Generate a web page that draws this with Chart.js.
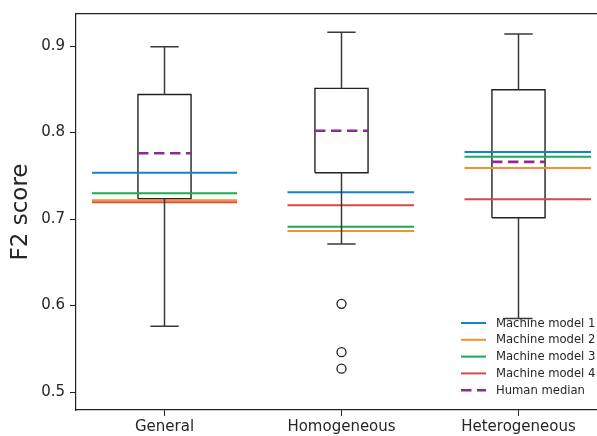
<!DOCTYPE html>
<html>
<head>
<meta charset="utf-8">
<script src="https://cdn.jsdelivr.net/npm/chart.js@4.4.0/dist/chart.umd.min.js"></script>
<style>
  html, body { margin: 0; padding: 0; background: #fff; overflow: hidden; }
  canvas { display: block; }
</style>
</head>
<body>
<canvas id="chart" width="620" height="436"></canvas>
<script>
// values
const categories = ['General', 'Homogeneous', 'Heterogeneous'];
const whiskerLow = [0.576, 0.671, 0.585];
const q1 = [0.7235, 0.7535, 0.7015];
const humanMedian = [0.776, 0.802, 0.766];
const q3 = [0.844, 0.851, 0.8495];
const whiskerHigh = [0.899, 0.916, 0.914];
const outliers = [[], [0.602, 0.546, 0.527], []];
const machineModel1 = [0.7535, 0.731, 0.7775];
const machineModel2 = [0.7216, 0.686, 0.759];
const machineModel3 = [0.7297, 0.691, 0.772];
const machineModel4 = [0.7193, 0.716, 0.7228];
const yTicks = [0.5, 0.6, 0.7, 0.8, 0.9];

// layout constants (data units on the x scale)
const boxHalf = 0.15;
const capHalf = 0.08;
const lineLeft = [0.41, 0.305, 0.305];
const lineRight = 0.41;

const font = "'DejaVu Sans', sans-serif";
const ink = '#222';

// join several point groups into one line, broken by null points
function segments(groups) {
  const pts = [];
  groups.forEach((g, i) => {
    if (i) pts.push({ x: g[0][0], y: null });
    g.forEach(p => pts.push({ x: p[0], y: p[1] }));
  });
  return pts;
}

const pos = categories.map((c, i) => i + 1);

const boxPts = segments(pos.map((p, i) => [
  [p - boxHalf, q1[i]], [p + boxHalf, q1[i]], [p + boxHalf, q3[i]],
  [p - boxHalf, q3[i]], [p - boxHalf, q1[i]]
]));

const whiskerPts = segments(pos.flatMap((p, i) => [
  [[p, q1[i]], [p, whiskerLow[i]]],
  [[p - capHalf, whiskerLow[i]], [p + capHalf, whiskerLow[i]]],
  [[p, q3[i]], [p, whiskerHigh[i]]],
  [[p - capHalf, whiskerHigh[i]], [p + capHalf, whiskerHigh[i]]]
]));

const medianPts = segments(pos.map((p, i) => [[p - boxHalf, humanMedian[i]], [p + boxHalf, humanMedian[i]]]));

const outlierPts = pos.flatMap((p, i) => outliers[i].map(v => ({ x: p, y: v })));

function modelLine(values) {
  return segments(pos.map((p, i) => [[p - lineLeft[i], values[i]], [p + lineRight, values[i]]]));
}

function lineSet(label, data, color, extra) {
  return Object.assign({
    type: 'line', label: label, data: data,
    borderColor: color, backgroundColor: color, borderWidth: 2,
    pointRadius: 0, fill: false, spanGaps: false, tension: 0,
    borderCapStyle: 'butt'
  }, extra || {});
}

const models = [
  ['Machine model 1', machineModel1, '#1185cc'],
  ['Machine model 2', machineModel2, '#f5912e'],
  ['Machine model 3', machineModel3, '#1aaa50'],
  ['Machine model 4', machineModel4, '#d44a4a']
];

const datasets = [
  lineSet('Human median', medianPts, '#8e2a96', { borderWidth: 2.6, borderDash: [10.5, 5.5], legend: true }),
  lineSet('whiskers', whiskerPts, '#3a3a3a', { borderWidth: 1.5 })
].concat(models.map(m => lineSet(m[0], modelLine(m[1]), m[2], { legend: true })))
 .concat([
  lineSet('boxes', boxPts, ink, { borderWidth: 1.4, borderJoinStyle: 'miter' }),
  {
    type: 'scatter', label: 'outliers', data: outlierPts,
    pointRadius: 4.5, pointBorderWidth: 1.3, pointBorderColor: ink,
    pointBackgroundColor: '#fff', showLine: false
  }
]);

// legend in the lower right of the plot area
const cornerLegend = {
  id: 'cornerLegend',
  afterDatasetsDraw(chart) {
    const ctx = chart.ctx;
    const area = chart.chartArea;
    const items = chart.data.datasets.filter(d => d.legend);
    const order = items.slice(1).concat(items.slice(0, 1));
    ctx.save();
    ctx.font = '11.6px ' + font;
    ctx.textBaseline = 'middle';
    order.forEach((d, i) => {
      const y = area.bottom - 87 + i * 16.8;
      const x0 = area.left + 385;
      ctx.strokeStyle = d.borderColor;
      ctx.lineWidth = d.borderWidth;
      ctx.setLineDash(d.borderDash || []);
      ctx.beginPath();
      ctx.moveTo(x0, y);
      ctx.lineTo(x0 + 25, y);
      ctx.stroke();
      ctx.setLineDash([]);
      ctx.fillStyle = '#262626';
      ctx.fillText(d.label, x0 + 35, y + 0.5);
    });
    ctx.restore();
  }
};

new Chart(document.getElementById('chart'), {
  type: 'line',
  data: { datasets: datasets },
  options: {
    responsive: false,
    animation: false,
    events: [],
    layout: { padding: { left: 0, right: 13, top: 0, bottom: 0 } },
    plugins: { legend: { display: false }, tooltip: { enabled: false } },
    scales: {
      x: {
        type: 'linear', position: 'bottom', min: 0.5, max: 3.5,
        afterBuildTicks: s => { s.ticks = pos.map(v => ({ value: v })); },
        afterFit: s => { s.height = 26; },
        grid: { display: true, drawOnChartArea: false, drawTicks: true, tickLength: 6, color: ink, lineWidth: 1 },
        border: { display: true, color: ink, width: 1.2 },
        ticks: {
          padding: 2, color: '#262626', font: { family: font, size: 15 },
          maxRotation: 0, autoSkip: false,
          callback: v => categories[v - 1]
        }
      },
      xTop: {
        type: 'linear', position: 'top', min: 0.5, max: 3.5,
        afterFit: s => { s.height = 14; },
        grid: { display: false },
        border: { display: true, color: ink, width: 1.2 },
        ticks: { display: false }
      },
      y: {
        type: 'linear', position: 'left', min: 0.4792, max: 0.937,
        afterBuildTicks: s => { s.ticks = yTicks.map(v => ({ value: v })); },
        afterFit: s => { s.width = 76; },
        grid: { display: true, drawOnChartArea: false, drawTicks: true, tickLength: 6, color: ink, lineWidth: 1 },
        border: { display: true, color: ink, width: 1.2 },
        ticks: {
          padding: 5, color: '#262626', font: { family: font, size: 15 },
          callback: v => v.toFixed(1)
        },
        title: {
          display: true, text: 'F2 score', color: '#262626',
          font: { family: font, size: 23 }, padding: { top: 7, bottom: 0 }
        }
      }
    }
  },
  plugins: [cornerLegend]
});
</script>
</body>
</html>
